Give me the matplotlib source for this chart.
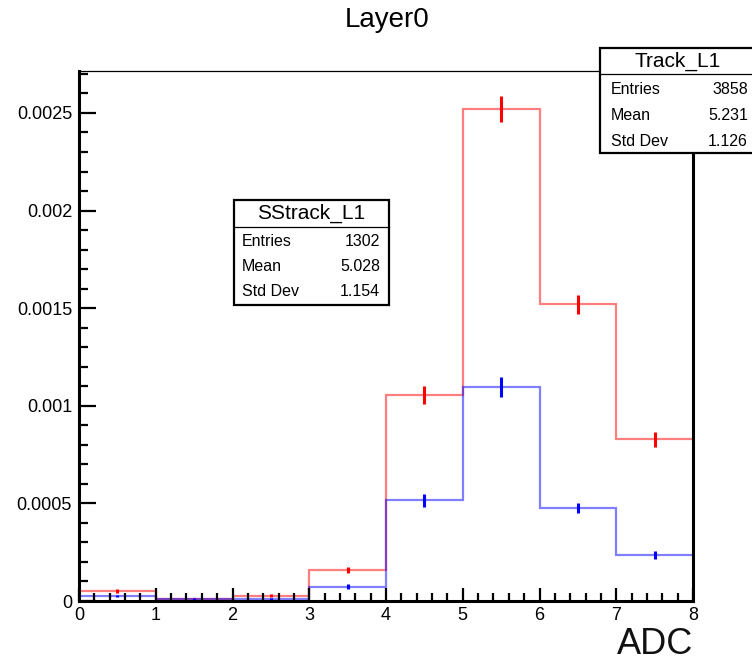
import matplotlib
matplotlib.use("Agg")
import matplotlib.pyplot as plt
from matplotlib.patches import Rectangle
from matplotlib.lines import Line2D
from matplotlib.ticker import FixedLocator, MultipleLocator, FixedFormatter
import numpy as np

plt.rcParams['font.family'] = ['Liberation Sans', 'DejaVu Sans']

# ---- data ----
bin_edges = [0, 1, 2, 3, 4, 5, 6, 7, 8]
track_vals = [5.3e-5, 1.2e-5, 2.7e-5, 1.59e-4, 1.054e-3, 2.52e-3, 1.52e-3, 8.28e-4]
track_errs = [1.0e-5, 5e-6, 7e-6, 1.6e-5, 4.5e-5, 6.7e-5, 5.0e-5, 3.7e-5]
sstrack_vals = [2.6e-5, 1.1e-5, 1.2e-5, 7.3e-5, 5.17e-4, 1.098e-3, 4.76e-4, 2.36e-4]
sstrack_errs = [7e-6, 5e-6, 5e-6, 1.2e-5, 3.3e-5, 5.1e-5, 2.5e-5, 1.9e-5]
x_ticks = [0, 1, 2, 3, 4, 5, 6, 7, 8]
x_ticklabels = ['0', '1', '2', '3', '4', '5', '6', '7', '8']
y_ticks = [0, 0.0005, 0.001, 0.0015, 0.002, 0.0025]
y_ticklabels = ['0', '0.0005', '0.001', '0.0015', '0.002', '0.0025']
title = "Layer0"
xlabel = "ADC"
track_stats = ("Track_L1", [("Entries", "3858"), ("Mean", "5.231"), ("Std Dev", "1.126")])
sstrack_stats = ("SStrack_L1", [("Entries", "1302"), ("Mean", "5.028"), ("Std Dev", "1.154")])

W, H = 752, 662
fig = plt.figure(figsize=(W / 100, H / 100), dpi=100)
ax = fig.add_axes([79 / W, 1 - 601 / H, (693 - 79) / W, (601 - 71) / H])

edges = np.array(bin_edges, dtype=float)
centers = 0.5 * (edges[:-1] + edges[1:])

ax.stairs(track_vals, edges, baseline=None, color='red', alpha=0.5, lw=1.6)
ax.errorbar(centers, track_vals, yerr=track_errs, fmt='none', ecolor='red', elinewidth=2.2, capsize=0)
ax.stairs(sstrack_vals, edges, baseline=None, color='blue', alpha=0.5, lw=1.6)
ax.errorbar(centers, sstrack_vals, yerr=sstrack_errs, fmt='none', ecolor='blue', elinewidth=2.2, capsize=0)

ax.set_xlim(0, 8)
ax.set_ylim(0, 0.002715)

ax.xaxis.set_major_locator(FixedLocator(x_ticks))
ax.xaxis.set_major_formatter(FixedFormatter(x_ticklabels))
ax.xaxis.set_minor_locator(MultipleLocator(0.2))
ax.yaxis.set_major_locator(FixedLocator(y_ticks))
ax.yaxis.set_major_formatter(FixedFormatter(y_ticklabels))
ax.yaxis.set_minor_locator(MultipleLocator(0.0001))

ax.tick_params(axis='x', which='major', direction='in', length=9.5, width=1.6, labelsize=13, pad=4)
ax.tick_params(axis='x', which='minor', direction='in', length=5.5, width=1.6)
ax.tick_params(axis='y', which='major', direction='in', length=12, width=1.6, labelsize=13, pad=5)
ax.tick_params(axis='y', which='minor', direction='in', length=6.5, width=1.6)
ax.tick_params(top=False, right=False, which='both')

for s in ['left', 'bottom', 'right']:
    ax.spines[s].set_linewidth(2.2)
ax.spines['top'].set_linewidth(0.9)

# title and x label
fig.text(387 / W, 1 - 20 / H, title, ha='center', va='center', fontsize=20)
fig.text(693 / W, 1 - 645 / H, xlabel, ha='right', va='center', fontsize=26, color='#111111')


def stat_box(x0, x1, y0, y1, ydiv, header, hx, hy, rows, row_ys, lx, rx):
    fx = lambda p: p / W
    fy = lambda p: 1 - p / H
    rect = Rectangle((fx(x0), fy(y1)), fx(x1) - fx(x0), fy(y0) - fy(y1),
                     transform=fig.transFigure, facecolor='white', edgecolor='black',
                     lw=1.6, zorder=10, clip_on=False)
    fig.add_artist(rect)
    fig.add_artist(Line2D([fx(x0), fx(x1)], [fy(ydiv), fy(ydiv)], transform=fig.transFigure,
                          color='black', lw=0.9, zorder=11))
    fig.text(fx(hx), fy(hy), header, ha='center', va='center', fontsize=15, zorder=12)
    for (name, val), ry in zip(rows, row_ys):
        fig.text(fx(lx), fy(ry), name, ha='left', va='center', fontsize=11.5, zorder=12)
        fig.text(fx(rx), fy(ry), val, ha='right', va='center', fontsize=11.5, zorder=12)


stat_box(600, 760, 48, 153, 74, track_stats[0], 678, 61, track_stats[1], [90, 116, 141.5], 611, 748)
stat_box(234, 389, 200, 305, 227, sstrack_stats[0], 311.5, 213, sstrack_stats[1], [241.5, 266.5, 291.5], 242, 380)

fig.savefig("out.png", dpi=100)
